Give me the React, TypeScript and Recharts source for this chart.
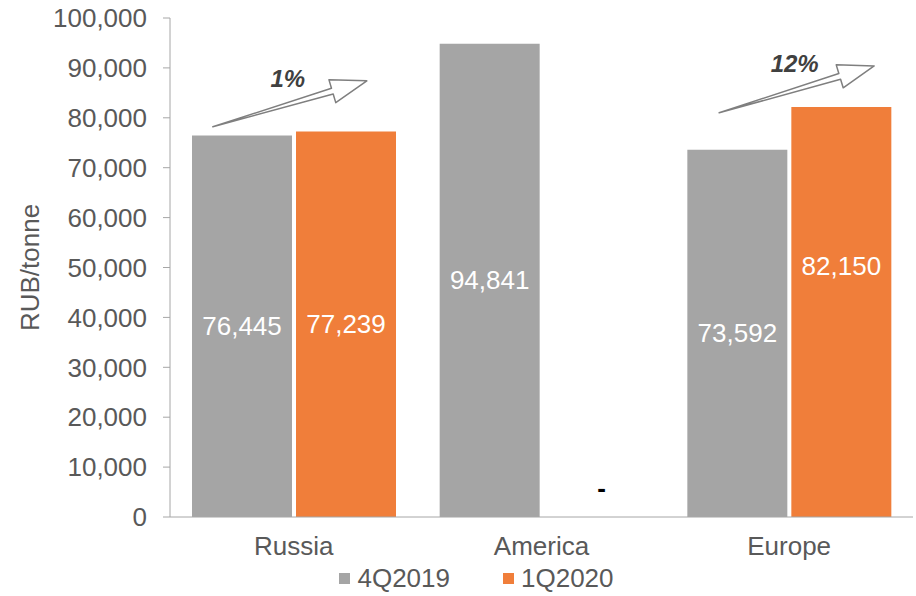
import { Bar, BarChart, LabelList, Legend, ReferenceLine, XAxis, YAxis } from "recharts"

const regions = ["Russia", "America", "Europe"]
const q4_2019 = [76445, 94841, 73592]
const q1_2020 = [77239, 0, 82150]
const yTicks = [0, 10000, 20000, 30000, 40000, 50000, 60000, 70000, 80000, 90000, 100000]

// growth arrows: start/end in data units, pixel offsets from category centre
const growth = [
    { region: "Russia", text: "1%", from: 78200, to: 87400, dxFrom: -81, dxTo: 73 },
    { region: "Europe", text: "12%", from: 81000, to: 90400, dxFrom: -70, dxTo: 85 },
]

const data = regions.map((region, i) => ({ region, q4: q4_2019[i], q1: q1_2020[i] }))

const GRAY = "#A5A5A5"
const ORANGE = "#F07E3A"
const TEXT = "#595959"
const FONT = "Liberation Sans, Arial, sans-serif"
const FS = 26

const fmt = (v: number) => v.toLocaleString("en-US")

function GrayLabel(props: any) {
    const { x, y, width, height, value } = props
    const i = q4_2019.indexOf(value)
    return (
        <g>
            <text x={x + width / 2} y={y + height / 2} textAnchor="middle" dominantBaseline="central" fill="#fff" fontSize={FS} fontFamily={FONT}>
                {fmt(value)}
            </text>
            {!q1_2020[i] && (
                <text x={x + width * 1.5 + 12} y={y + height - 20} textAnchor="middle" fill="#000" fontSize={FS} fontFamily={FONT} fontWeight="bold">
                    -
                </text>
            )}
        </g>
    )
}

function OrangeLabel(props: any) {
    const { x, y, width, height, value } = props
    if (!value) return null
    const i = q1_2020.indexOf(value)
    // the Europe label sits higher in the original
    const lift = regions[i] === "Europe" ? 46 : 0
    return (
        <text x={x + width / 2} y={y + height / 2 - lift} textAnchor="middle" dominantBaseline="central" fill="#fff" fontSize={FS} fontFamily={FONT}>
            {fmt(value)}
        </text>
    )
}

function makeArrow(g: typeof growth[number]) {
    return (props: any) => {
        const x1 = props.x1 + g.dxFrom
        const y1 = props.y1
        const x2 = props.x2 + g.dxTo
        const y2 = props.y2
        const dx = x2 - x1
        const dy = y2 - y1
        const len = Math.sqrt(dx * dx + dy * dy)
        const ux = dx / len
        const uy = dy / len
        const nx = -uy
        const ny = ux
        const h = 36
        const w = 12
        const s = 3
        const bx = x2 - ux * h
        const by = y2 - uy * h
        const pts = [
            [x1, y1],
            [bx + nx * s, by + ny * s],
            [bx + nx * w, by + ny * w],
            [x2, y2],
            [bx - nx * w, by - ny * w],
            [bx - nx * s, by - ny * s],
        ]
        return (
            <g>
                <polygon points={pts.map((p) => p.join(",")).join(" ")} fill="#fff" stroke="#7F7F7F" strokeWidth={1.5} strokeLinejoin="round" />
                <text x={(x1 + x2) / 2 - 2} y={Math.min(y1, y2) + 6} textAnchor="middle" fontSize={24} fontWeight="bold" fontStyle="italic" fill="#404040" fontFamily={FONT}>
                    {g.text}
                </text>
            </g>
        )
    }
}

const legendItems = [
    { name: "4Q2019", color: GRAY },
    { name: "1Q2020", color: ORANGE },
]

function LegendContent() {
    return (
        <div style={{ display: "flex", justifyContent: "center", paddingLeft: 40, fontFamily: FONT, fontSize: FS, color: TEXT, lineHeight: "22px" }}>
            {legendItems.map((it, i) => (
                <div key={it.name} style={{ display: "flex", alignItems: "center", marginLeft: i ? 53 : 0 }}>
                    <span style={{ width: 11, height: 11, background: it.color, display: "inline-block", marginRight: 7 }} />
                    <span>{it.name}</span>
                </div>
            ))}
        </div>
    )
}

export default function App() {
    return (
        <div style={{ position: "absolute", left: 0, top: 0, width: 916, height: 596, background: "#fff" }}>
            <BarChart
                width={916}
                height={596}
                data={data}
                margin={{ top: 18, right: 3, bottom: 0, left: 0 }}
                barCategoryGap={22}
                barGap={4}
            >
                <YAxis
                    width={170}
                    domain={[0, 100000]}
                    ticks={yTicks}
                    tickFormatter={fmt}
                    tickSize={7}
                    tickMargin={16}
                    axisLine={{ stroke: "#A6A6A6" }}
                    tickLine={{ stroke: "#A6A6A6" }}
                    tick={{ fill: TEXT, fontSize: FS, fontFamily: FONT }}
                    label={{ value: "RUB/tonne", angle: -90, position: "insideLeft", offset: 30, style: { fill: TEXT, fontSize: FS, fontFamily: FONT, textAnchor: "middle" } }}
                />
                <XAxis
                    dataKey="region"
                    height={50}
                    tickSize={0}
                    tickMargin={20}
                    axisLine={{ stroke: "#A6A6A6" }}
                    tickLine={false}
                    tick={{ fill: TEXT, fontSize: FS, fontFamily: FONT }}
                />
                <Legend verticalAlign="bottom" height={29} content={<LegendContent />} />
                <Bar dataKey="q4" name="4Q2019" fill={GRAY} isAnimationActive={false}>
                    <LabelList dataKey="q4" content={GrayLabel} />
                </Bar>
                <Bar dataKey="q1" name="1Q2020" fill={ORANGE} isAnimationActive={false}>
                    <LabelList dataKey="q1" content={OrangeLabel} />
                </Bar>
                {growth.map((g) => (
                    <ReferenceLine
                        key={g.region}
                        segment={[
                            { x: g.region, y: g.from },
                            { x: g.region, y: g.to },
                        ]}
                        shape={makeArrow(g)}
                    />
                ))}
            </BarChart>
        </div>
    )
}
